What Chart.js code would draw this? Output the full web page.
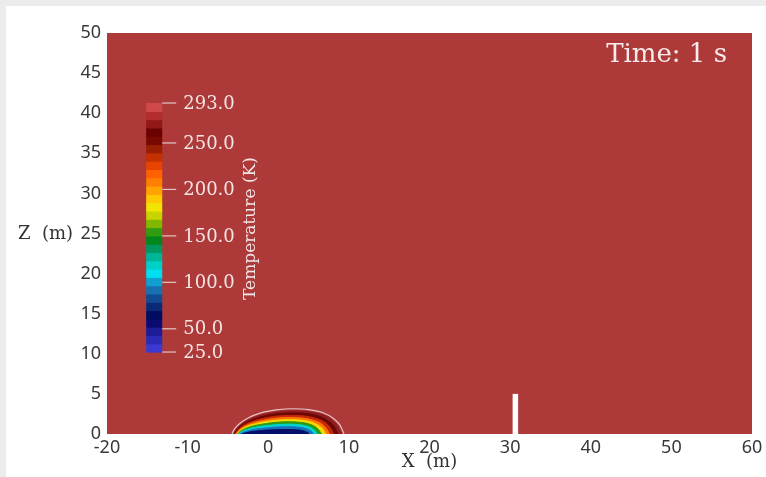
<!DOCTYPE html>
<html>
<head>
<meta charset="utf-8">
<script src="https://cdn.jsdelivr.net/npm/chart.js@4.4.1/dist/chart.umd.min.js"></script>
<style>
  html, body { margin: 0; padding: 0; background: #ececec; }
  #wrap { position: absolute; left: 6px; top: 6px; width: 760px; height: 471px; background: #fff; }
</style>
</head>
<body>
<div id="wrap"><canvas id="field"></canvas></div>
<script>
// axes
const xMin = -20, xMax = 60, xStep = 10;
const zMin = 0, zMax = 50, zStep = 5;

// cloud contours at t = 1 s, outermost first (x and z in metres)
const outlineX = [-4.5, -4.2, -3.5, -2.5, -1.0, 1.0, 3.0, 5.0, 6.8, 8.0, 8.9, 9.4];
const outlineZ = [0, 0.6, 1.35, 2.0, 2.6, 3.0, 3.15, 3.05, 2.65, 2.0, 1.1, 0];
const darkRedX = [-4.3, -4.0, -3.3, -2.3, -0.8, 1.1, 3.0, 4.9, 6.6, 7.8, 8.6, 9.1];
const darkRedZ = [0, 0.55, 1.25, 1.85, 2.4, 2.75, 2.88, 2.8, 2.45, 1.85, 1.0, 0];
const maroonX = [-4.2, -3.9, -3.2, -2.2, -0.7, 1.1, 2.9, 4.7, 6.3, 7.4, 8.2, 8.6];
const maroonZ = [0, 0.5, 1.15, 1.7, 2.2, 2.52, 2.62, 2.55, 2.22, 1.65, 0.9, 0];
const redX = [-4.1, -3.8, -3.1, -2.1, -0.6, 1.1, 2.8, 4.5, 5.9, 7.0, 7.7, 8.1];
const redZ = [0, 0.45, 1.05, 1.52, 1.96, 2.24, 2.32, 2.25, 1.95, 1.45, 0.78, 0];
const orangeX = [-4.0, -3.7, -3.0, -2.0, -0.5, 1.1, 2.7, 4.3, 5.6, 6.6, 7.2, 7.6];
const orangeZ = [0, 0.4, 0.93, 1.36, 1.74, 1.98, 2.05, 1.98, 1.72, 1.28, 0.68, 0];
const yellowX = [-3.9, -3.6, -2.9, -1.9, -0.4, 1.1, 2.6, 4.1, 5.3, 6.2, 6.8, 7.1];
const yellowZ = [0, 0.35, 0.83, 1.2, 1.53, 1.73, 1.79, 1.73, 1.5, 1.1, 0.58, 0];
const greenX = [-3.8, -3.5, -2.8, -1.8, -0.3, 1.1, 2.5, 3.9, 5.0, 5.8, 6.3, 6.6];
const greenZ = [0, 0.3, 0.7, 1.02, 1.3, 1.47, 1.52, 1.46, 1.27, 0.92, 0.48, 0];
const cyanX = [-3.7, -3.4, -2.7, -1.7, -0.2, 1.1, 2.4, 3.7, 4.7, 5.4, 5.8, 6.1];
const cyanZ = [0, 0.24, 0.56, 0.82, 1.05, 1.18, 1.22, 1.17, 1.0, 0.72, 0.38, 0];
const blueX = [-3.5, -3.2, -2.5, -1.5, 0, 1.1, 2.3, 3.5, 4.4, 5.0, 5.4, 5.6];
const blueZ = [0, 0.17, 0.42, 0.62, 0.78, 0.88, 0.9, 0.86, 0.74, 0.53, 0.28, 0];
const navyX = [-3.3, -3.0, -2.3, -1.3, 0.1, 1.1, 2.2, 3.3, 4.1, 4.6, 4.9, 5.1];
const navyZ = [0, 0.1, 0.26, 0.4, 0.5, 0.55, 0.56, 0.53, 0.45, 0.32, 0.17, 0];

// obstacle (wall) at x ~ 30.6 m
const wallX = [30.65, 30.65];
const wallZ = [0, 5];

// colour bar
const cbTicks = [293, 250, 200, 150, 100, 50, 25];
const cbMin = 25, cbMax = 293;
const cbColors = [
  '#3a3ad2', '#2a2ab4', '#1c1c96', '#0a0a70', '#000c60', '#0a2a78', '#104a90', '#1870b0',
  '#10a0d0', '#00e0f0', '#00d0c8', '#00b498', '#009860', '#00881c', '#309c10', '#80b800',
  '#c8d400', '#f0e400', '#ffc800', '#ffa400', '#ff8000', '#ff6000', '#e84400', '#c43000',
  '#982000', '#780800', '#6a0000', '#901818', '#b42c2c', '#d04848'
];

const fieldRed = '#ae3939';
const serif = 'DejaVu Serif';

const contours = [
  { x: darkRedX, z: darkRedZ, color: '#8e1c1c' },
  { x: maroonX, z: maroonZ, color: '#6c0606' },
  { x: redX, z: redZ, color: '#c42a08' },
  { x: orangeX, z: orangeZ, color: '#ff7400' },
  { x: yellowX, z: yellowZ, color: '#f4dc00' },
  { x: greenX, z: greenZ, color: '#2a9a18' },
  { x: cyanX, z: cyanZ, color: '#00d4d0' },
  { x: blueX, z: blueZ, color: '#1a70b8' },
  { x: navyX, z: navyZ, color: '#020e6a' }
];

function pts(xs, zs) {
  return xs.map((x, i) => ({ x: x, y: zs[i] }));
}

const datasets = contours.map((c, i) => ({
  data: pts(c.x, c.z),
  showLine: true,
  fill: 'origin',
  backgroundColor: c.color,
  borderColor: c.color,
  borderWidth: 1,
  pointRadius: 0,
  cubicInterpolationMode: 'monotone',
  order: 50 - i
}));

datasets.push({
  data: pts(outlineX, outlineZ),
  showLine: true,
  fill: false,
  borderColor: '#e6c4c4',
  borderWidth: 1.2,
  pointRadius: 0,
  cubicInterpolationMode: 'monotone',
  order: 60
});

datasets.push({
  data: pts(wallX, wallZ),
  showLine: true,
  fill: false,
  borderColor: '#ffffff',
  borderWidth: 5.5,
  borderCapStyle: 'butt',
  pointRadius: 0,
  order: 0
});

const fieldBackground = {
  id: 'fieldBackground',
  beforeDraw(chart) {
    const { ctx, chartArea: a } = chart;
    ctx.save();
    ctx.fillStyle = fieldRed;
    ctx.fillRect(a.left, a.top, a.right - a.left, a.bottom - a.top);
    ctx.restore();
  }
};

const overlay = {
  id: 'overlay',
  afterDatasetsDraw(chart) {
    const { ctx, chartArea: a } = chart;
    const xs = chart.scales.x, ys = chart.scales.y;

    // colour bar
    const x0 = xs.getPixelForValue(-15.14), x1 = xs.getPixelForValue(-13.15);
    const yTop = ys.getPixelForValue(41.27), yBot = ys.getPixelForValue(10.22);
    const h = (yBot - yTop) / cbColors.length;
    ctx.save();
    cbColors.forEach((c, i) => {
      ctx.fillStyle = c;
      ctx.fillRect(x0, yBot - (i + 1) * h, x1 - x0, h + 0.6);
    });

    ctx.strokeStyle = '#e2c6c6';
    ctx.lineWidth = 1.2;
    ctx.fillStyle = '#f3e4e4';
    ctx.font = '18px "' + serif + '"';
    ctx.textAlign = 'left';
    ctx.textBaseline = 'middle';
    cbTicks.forEach(t => {
      const y = yBot - (t - cbMin) / (cbMax - cbMin) * (yBot - yTop);
      ctx.beginPath();
      ctx.moveTo(x1, y);
      ctx.lineTo(x1 + 14, y);
      ctx.stroke();
      ctx.fillText(t.toFixed(1), x1 + 21, y + 1);
    });

    // colour bar title
    ctx.save();
    ctx.translate(x1 + 88, (yTop + yBot) / 2 + 1);
    ctx.rotate(-Math.PI / 2);
    ctx.textAlign = 'center';
    ctx.font = '17px "' + serif + '"';
    ctx.fillText('Temperature (K)', 0, 0);
    ctx.restore();

    // time stamp
    ctx.textAlign = 'right';
    ctx.font = '26px "' + serif + '"';
    ctx.fillStyle = '#f6ecec';
    ctx.fillText('Time: 1 s', a.right - 25, a.top + 22);

    // axis titles
    ctx.fillStyle = '#333';
    ctx.font = '18px "' + serif + '"';
    ctx.textAlign = 'left';
    ctx.fillText('Z  (m)', 12, ys.getPixelForValue(25) + 1);
    ctx.textAlign = 'center';
    ctx.fillText('X  (m)', (a.left + a.right) / 2, a.bottom + 28);
    ctx.restore();
  }
};

new Chart(document.getElementById('field'), {
  type: 'scatter',
  data: { datasets: datasets },
  plugins: [fieldBackground, overlay],
  options: {
    responsive: true,
    maintainAspectRatio: false,
    animation: false,
    layout: { padding: { left: 0, top: 27, right: 14, bottom: 0 } },
    plugins: { legend: { display: false }, tooltip: { enabled: false } },
    scales: {
      x: {
        type: 'linear',
        min: xMin, max: xMax,
        grid: { display: false, drawTicks: false },
        border: { display: false },
        ticks: { stepSize: xStep, padding: 3, color: '#383838', font: { family: 'Noto Sans', size: 18 } },
        afterFit(scale) { scale.height = 43; }
      },
      y: {
        type: 'linear',
        min: zMin, max: zMax,
        grid: { display: false, drawTicks: false },
        border: { display: false },
        ticks: { stepSize: zStep, padding: 6, color: '#383838', font: { family: 'Noto Sans', size: 18 } },
        afterFit(scale) { scale.width = 101; }
      }
    }
  }
});
</script>
</body>
</html>
